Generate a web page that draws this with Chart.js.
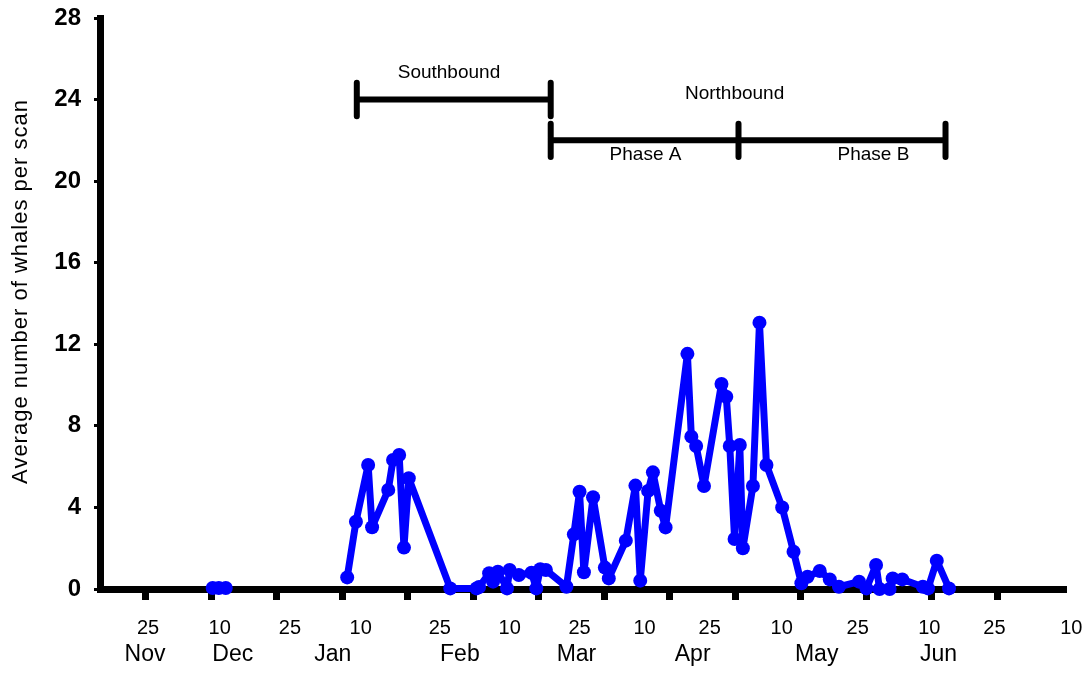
<!DOCTYPE html>
<html>
<head>
<meta charset="utf-8">
<script src="https://cdn.jsdelivr.net/npm/chart.js@4.4.0/dist/chart.umd.min.js"></script>
<style>
  body { margin: 0; background: #fff; }
  #wrap { width: 1089px; height: 675px; }
</style>
</head>
<body>
<div id="wrap"><canvas id="whaleChart" width="1089" height="675"></canvas></div>
<script>
// x = day of the season, 15 = 25 Nov, one tick every 15 days
const seasonDay = [
  30.3, 31.7, 33.3, 45,
  61.1, 63.1, 65.9, 66.8, 70.5, 71.6, 73.0, 74.1, 75.2,
  84.7, 90.7, 91.3, 93.6, 94.5, 95.6, 97.7, 98.3, 100.4, 103.3, 104.4, 105.3, 106.6,
  111.3, 113.0, 114.3, 115.3, 117.4, 120.1, 121.0, 124.9, 127.1, 128.2, 130.0, 131.1, 132.9, 134.0,
  139.0, 139.9, 141.0, 142.8, 146.8, 147.9, 148.7, 149.8, 151.0, 151.7, 154.0, 155.5, 157.1,
  160.7, 163.3, 165.1, 166.5, 169.3, 171.6, 173.7, 178.3, 180.0, 182.2, 183.0, 185.3, 186.0,
  188.2, 192.9, 194.1, 196.1, 198.9
];
const whalesPerScan = [
  0.05, 0.05, 0.05, null,
  0.57, 3.3, 6.08, 3.03, 4.86, 6.33, 6.57, 2.03, 5.43,
  0.03, 0.03, 0.1, 0.77, 0.36, 0.85, 0.03, 0.93, 0.69, 0.8, 0.03, 0.97, 0.93,
  0.11, 2.68, 4.77, 0.82, 4.5, 1.05, 0.52, 2.37, 5.07, 0.41, 4.81, 5.72, 3.84, 3.02,
  11.53, 7.47, 7.01, 5.05, 10.05, 9.43, 7.01, 2.45, 7.06, 2.0, 5.05, 13.06, 6.08,
  4.0, 1.83, 0.28, 0.6, 0.88, 0.47, 0.11, 0.36, 0.03, 1.18, 0.0, 0.0, 0.52,
  0.47, 0.11, 0.03, 1.39, 0.03
];

const tickDays = [15, 30, 45, 60, 75, 90, 105, 120, 135, 150, 165, 180, 195, 210];
const dayLabels = ['25', '10', '25', '10', '25', '10', '25', '10', '25', '10', '25', '10', '25', '10'];
const dayLabelDays = [15.5, 31.9, 48.0, 64.2, 82.3, 98.3, 114.3, 129.2, 144.1, 160.6, 178.0, 194.4, 209.3, 226.9];
const monthNames = ['Nov', 'Dec', 'Jan', 'Feb', 'Mar', 'Apr', 'May', 'Jun'];
const monthDays = [14.8, 34.9, 57.8, 86.9, 113.6, 140.2, 168.6, 196.5];

// migration periods
const southboundDays = [63.3, 107.7];
const southboundLevel = 24;
const northboundDays = [107.7, 150.7, 198.1];
const northboundLevel = 22;
const periodNames = ['Southbound', 'Northbound', 'Phase A', 'Phase B'];
const periodNameDays = [84.4, 149.8, 129.4, 181.6];
const periodNameLevels = [25.3, 24.3, 21.3, 21.3];

const yTitle = 'Average number of whales per scan';

const FONT = '"Liberation Sans", Arial, sans-serif';
Chart.defaults.font.family = FONT;
Chart.defaults.color = '#000';

function spanPoints(days, level) {
  const pts = [{x: days[0], y: level}, {x: days[days.length - 1], y: level}, {x: days[0], y: null}];
  days.forEach(d => {
    pts.push({x: d, y: level - 0.82}, {x: d, y: level + 0.82}, {x: d, y: null});
  });
  return pts;
}

const spanStyle = {
  borderColor: '#000',
  borderWidth: 6,
  borderCapStyle: 'round',
  pointRadius: 0,
  spanGaps: false,
  clip: false
};

const textLayer = {
  id: 'textLayer',
  afterDraw(chart) {
    const {ctx, scales: {x, y}} = chart;
    ctx.save();
    ctx.fillStyle = '#000';
    ctx.textAlign = 'center';
    ctx.textBaseline = 'middle';
    ctx.font = '20px ' + FONT;
    dayLabelDays.forEach((d, i) => ctx.fillText(dayLabels[i], x.getPixelForValue(d), y.bottom + 39));
    ctx.font = '23px ' + FONT;
    monthDays.forEach((d, i) => ctx.fillText(monthNames[i], x.getPixelForValue(d), y.bottom + 66));
    ctx.font = '19px ' + FONT;
    periodNames.forEach((t, i) => {
      ctx.fillText(t, x.getPixelForValue(periodNameDays[i]), y.getPixelForValue(periodNameLevels[i]));
    });
    // rotated axis title
    ctx.translate(21, (y.top + y.bottom) / 2 - 12);
    ctx.rotate(-Math.PI / 2);
    ctx.font = '22px ' + FONT;
    ctx.letterSpacing = '1px';
    ctx.fillText(yTitle, 0, 0);
    ctx.restore();
  }
};

new Chart(document.getElementById('whaleChart'), {
  type: 'line',
  data: {
    datasets: [
      {
        label: 'Whales per scan',
        data: seasonDay.map((d, i) => ({x: d, y: whalesPerScan[i]})),
        borderColor: '#0000ff',
        backgroundColor: '#0000ff',
        borderWidth: 7,
        borderJoinStyle: 'round',
        pointRadius: 7,
        pointBorderWidth: 0,
        pointBackgroundColor: '#0000ff',
        spanGaps: false,
        clip: false
      },
      Object.assign({label: 'Southbound', data: spanPoints(southboundDays, southboundLevel)}, spanStyle),
      Object.assign({label: 'Northbound', data: spanPoints(northboundDays, northboundLevel)}, spanStyle)
    ]
  },
  options: {
    responsive: false,
    animation: false,
    devicePixelRatio: 1,
    layout: {padding: {top: 18, right: 26, left: 0, bottom: 0}},
    plugins: {legend: {display: false}, tooltip: {enabled: false}},
    scales: {
      x: {
        type: 'linear',
        min: 4.5,
        max: 225,
        afterBuildTicks: s => { s.ticks = tickDays.map(v => ({value: v})); },
        afterFit: s => { s.height = 86; s.paddingLeft = 0; s.paddingRight = 0; },
        ticks: {display: false},
        grid: {drawOnChartArea: false, drawTicks: true, tickLength: 11, lineWidth: 7, color: '#000'},
        border: {display: true, width: 7, color: '#000'}
      },
      y: {
        min: 0,
        max: 28,
        afterFit: s => { s.width = 100; s.paddingTop = 0; s.paddingBottom = 0; },
        ticks: {stepSize: 4, color: '#000', padding: 13, font: {size: 24, weight: 'bold'}},
        grid: {drawOnChartArea: false, drawTicks: true, tickLength: 6, lineWidth: 3, color: '#000'},
        border: {display: true, width: 7, color: '#000'},
        title: {display: false}
      }
    }
  },
  plugins: [textLayer]
});
</script>
</body>
</html>
